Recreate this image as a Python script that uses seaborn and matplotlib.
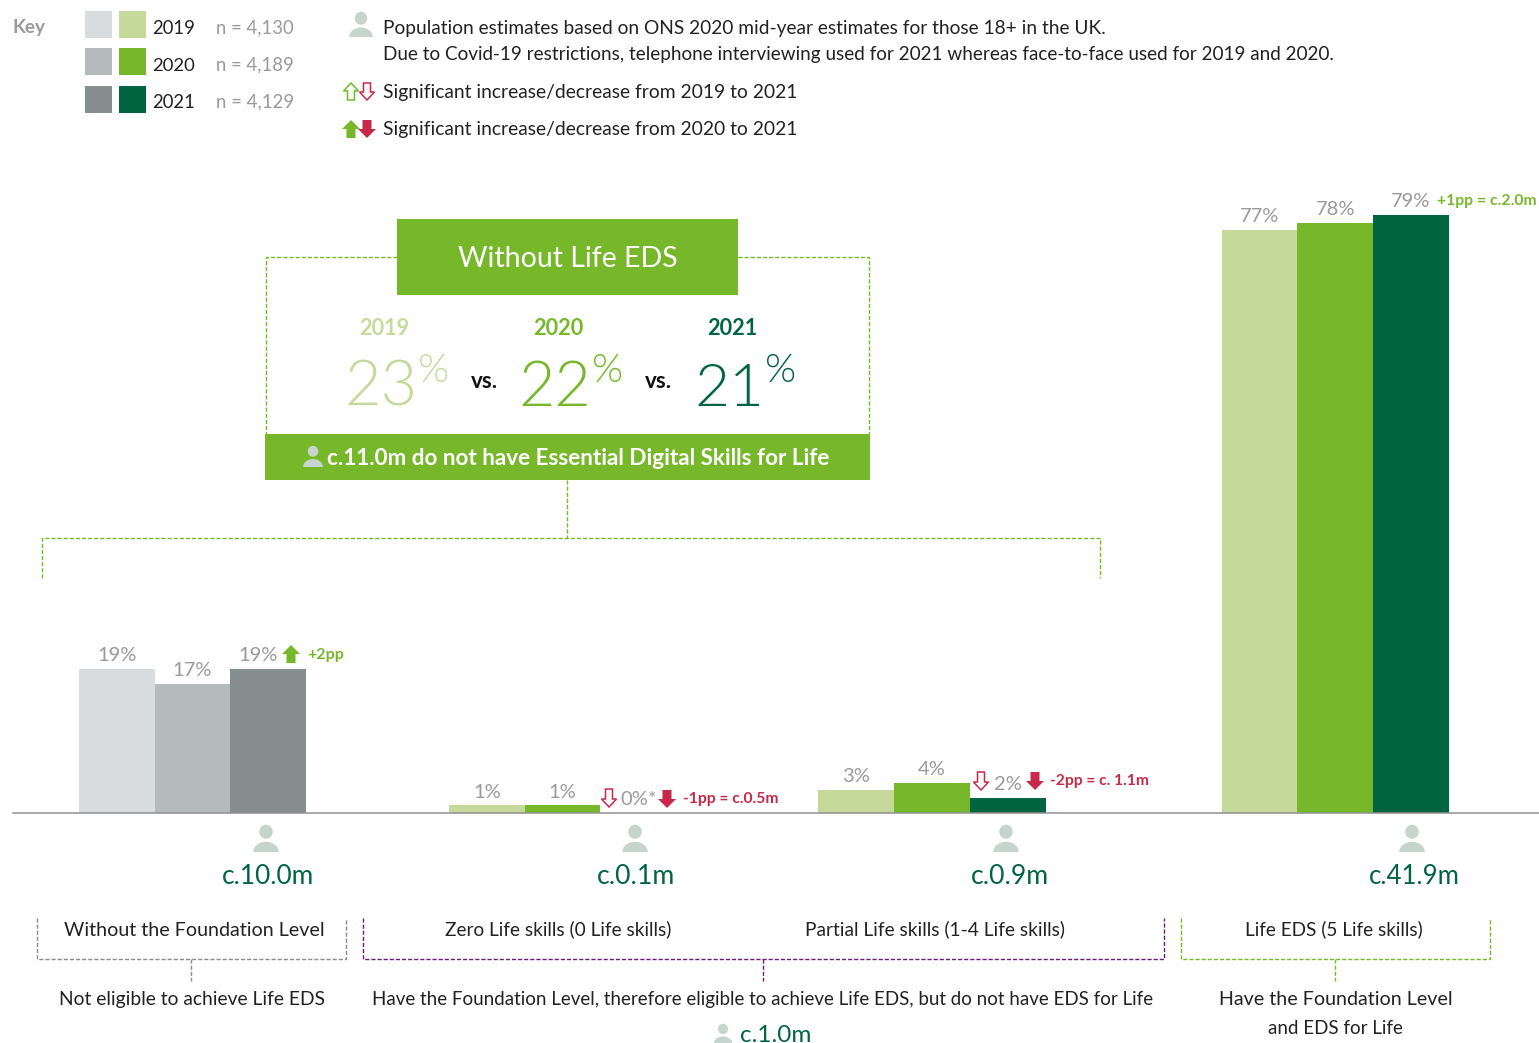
import numpy as np
import pandas as pd
import matplotlib
matplotlib.use("Agg")
import matplotlib.pyplot as plt
from matplotlib.patches import Polygon, Rectangle, Ellipse
import seaborn as sns

# ---------- data ----------
years = ["2019", "2020", "2021"]
sample_sizes = ["n = 4,130", "n = 4,189", "n = 4,129"]
group_names = ["Without the Foundation Level", "Zero Life skills", "Partial Life skills", "Life EDS"]
values_without_foundation = [19, 17, 19]
values_zero = [1, 1, 0]
values_partial = [3, 4, 2]
values_life = [77, 78, 79]
headline_values = ["23", "22", "21"]
population_labels = ["c.10.0m", "c.0.1m", "c.0.9m", "c.41.9m"]

# ---------- style ----------
W, H = 1539, 1043
GREENS = ["#C5DA9A", "#76B82A", "#006540"]
GREYS = ["#D9DCDF", "#B5BABC", "#878E90"]
ICON = "#C5D4CC"
RED = "#C8294A"
TXT = "#222222"
LBL = "#9A9A9A"
PURPLE = "#6A1B7A"
sns.set_theme(style="white")
plt.rcParams["font.family"] = ["Lato", "DejaVu Sans"]

fig = plt.figure(figsize=(W / 100, H / 100), dpi=100, facecolor="white")
BASE = 813
PX_PER_PCT = 7.57
ax = fig.add_axes([0, (H - BASE) / H, 1, BASE / H])
ov = fig.add_axes([0, 0, 1, 1], facecolor="none")
ov.set_xlim(0, W)
ov.set_ylim(H, 0)
ov.axis("off")

# ---------- bars ----------
BAR_W = 75.67
group_centres = [192.5, 562.5, 932, 1335.3]
group_values = [values_without_foundation, values_zero, values_partial, values_life]
group_palettes = [GREYS, GREENS, GREENS, GREENS]
label_shift_pt = {"0-2021": -7.2}
rows = []
palette = {}
for g, (c, vals, pal) in enumerate(zip(group_centres, group_values, group_palettes)):
    for i, v in enumerate(vals):
        key = f"{g}-{years[i]}"
        rows.append({"pos": c + (i - 1) * BAR_W, "value": v, "bar": key})
        palette[key] = pal[i]
df = pd.DataFrame(rows)
sns.barplot(data=df, x="pos", y="value", hue="bar", palette=palette, native_scale=True,
            dodge=False, width=1, saturation=1, linewidth=0, legend=False, ax=ax)
ax.set_xlim(0, W)
ax.set_ylim(0, BASE / PX_PER_PCT)
ax.set_xlabel("")
ax.set_ylabel("")
ax.set_xticks([])
ax.set_yticks([])
sns.despine(ax=ax, left=True, top=True, right=True)
ax.spines["bottom"].set_bounds(13, W)
ax.spines["bottom"].set_color("#8F8F8F")
ax.spines["bottom"].set_linewidth(1.1)
ax.patch.set_alpha(0)
for cont, row in zip(ax.containers, rows):
    lab = f"{row['value']}%" + ("*" if row["value"] == 0 else "")
    anns = ax.bar_label(cont, labels=[lab], padding=3.5, color=LBL, fontsize=14.5)
    for a in anns:
        a.xyann = (label_shift_pt.get(row["bar"], 0), a.xyann[1])

# ---------- helpers ----------
renderer = fig.canvas.get_renderer()


def T(s, x, y, width=None, size=14, color=TXT, ha="left", weight="normal"):
    t = ov.text(x, y, s, fontsize=size, color=color, ha=ha, va="baseline", fontweight=weight)
    if width:
        t.set_fontsize(size * width / t.get_window_extent(renderer).width)
    return t


def person(cx, top, h):
    ov.add_patch(Ellipse((cx, top + .25 * h), .5 * h, .52 * h, color=ICON, lw=0))
    t = np.linspace(0, np.pi, 30)
    pts = np.c_[cx + .47 * h * np.cos(t), top + h - .38 * h * np.sin(t)]
    ov.add_patch(Polygon(pts, closed=True, color=ICON, lw=0))


def arrow(cx, top, bot, color, filled=True, up=False, hw=9, bw=4.5, hl=9):
    if up:
        pts = [(cx, top), (cx + hw, top + hl), (cx + bw, top + hl), (cx + bw, bot),
               (cx - bw, bot), (cx - bw, top + hl), (cx - hw, top + hl)]
    else:
        pts = [(cx, bot), (cx + hw, bot - hl), (cx + bw, bot - hl), (cx + bw, top),
               (cx - bw, top), (cx - bw, bot - hl), (cx - hw, bot - hl)]
    ov.add_patch(Polygon(pts, closed=True, facecolor=color if filled else "white",
                         edgecolor=color, lw=1.1 if not filled else 0, joinstyle="miter"))


def dash(xs, ys, color):
    ov.plot(xs, ys, color=color, lw=1.0, dashes=(3, 1.4), dash_capstyle="butt")


# ---------- key ----------
T("Key", 13, 33, width=33, color=LBL, weight="bold")
for i, (yr, n, top, base) in enumerate(zip(years, sample_sizes, [11, 48, 86], [34, 71, 108])):
    ov.add_patch(Rectangle((85, top), 27, 27, color=GREYS[i], lw=0))
    ov.add_patch(Rectangle((119, top), 27, 27, color=GREENS[i], lw=0))
    T(yr, 152, base, width=43, color=TXT)
    T(n, 216.5, base - 1, width=78, color=LBL)
person(361, 12, 25)
T("Population estimates based on ONS 2020 mid-year estimates for those 18+ in the UK.", 383, 34, width=724)
T("Due to Covid-19 restrictions, telephone interviewing used for 2021 whereas face-to-face used for 2019 and 2020.",
  383, 60, width=956)
arrow(351, 83, 100, GREENS[1], filled=False, up=True, hw=7.5, bw=3.5, hl=8)
arrow(367, 83, 100, RED, filled=False, hw=7.5, bw=3.5, hl=8)
T("Significant increase/decrease from 2019 to 2021", 383, 98, width=417)
arrow(351, 120, 138, GREENS[1], up=True)
arrow(367, 120, 138, RED)
T("Significant increase/decrease from 2020 to 2021", 383, 135, width=417)

# ---------- headline panel ----------
dash([397, 265.5, 265.5], [257, 257, 434], GREENS[1])
dash([738, 869, 869], [257, 257, 434], GREENS[1])
ov.add_patch(Rectangle((397, 219), 341, 76, color=GREENS[1], lw=0))
ov.add_patch(Rectangle((265, 434), 605, 46, color=GREENS[1], lw=0))
T("Without Life EDS", 567.5, 267, width=219, color="white", ha="center", size=22)
for i, (yr, val, xc, xn, xp, wn) in enumerate(zip(years, headline_values, [384, 558, 732],
                                                  [344, 518, 694], [418, 592, 765], [73, 73, 70])):
    T(yr, xc, 335, width=50, color=GREENS[i], ha="center", weight="bold", size=16)
    T(val, xn, 406, width=wn, color=GREENS[i], size=50, weight=300)
    T("%", xp, 382, width=31, color=GREENS[i], size=26, weight=300)
T("vs.", 484, 388, width=27, color="#111111", ha="center", weight="bold", size=14)
T("vs.", 658, 388, width=27, color="#111111", ha="center", weight="bold", size=14)
person(313, 446, 21)
T("c.11.0m do not have Essential Digital Skills for Life", 327, 465, width=506, color="white", weight="bold", size=16)
dash([567, 567], [480, 537.5], GREENS[1])
dash([41.5, 41.5, 1099.5, 1099.5], [578, 537.5, 537.5, 578], GREENS[1])

# ---------- bar annotations ----------
arrow(291, 645, 663, GREENS[1], up=True)
T("+2pp", 307, 659, width=37, color=GREENS[1], weight="bold")
arrow(609, 789, 807, RED, filled=False, hw=7.5, bw=3.5, hl=8)
arrow(667, 790, 808, RED)
T("-1pp = c.0.5m", 683, 803, width=96, color=RED, weight="bold")
arrow(981, 772, 790, RED, filled=False, hw=7.5, bw=3.5, hl=8)
arrow(1035, 772, 790, RED)
T("-2pp = c. 1.1m", 1050, 785, width=99, color=RED, weight="bold")
T("+1pp = c.2.0m", 1437, 205, width=100, color=GREENS[1], weight="bold")

# ---------- population labels ----------
for lab, ic, cx, wd in zip(population_labels, [266, 635, 1006, 1412], [268, 636.5, 1010, 1414.5], [92, 78, 78, 91]):
    person(ic, 825, 27)
    T(lab, cx, 884, width=wd, color=GREENS[2], ha="center", size=20)

# ---------- lower brackets ----------
T("Without the Foundation Level", 194, 936, width=260, ha="center")
T("Zero Life skills (0 Life skills)", 558.5, 935, width=227, ha="center")
T("Partial Life skills (1-4 Life skills)", 935, 935, width=261, ha="center")
T("Life EDS (5 Life skills)", 1334, 935, width=178, ha="center")
dash([37, 37, 346, 346], [918, 958.5, 958.5, 918], "#8C8C8C")
dash([191, 191], [958.5, 981], "#8C8C8C")
dash([363, 363, 1163.5, 1163.5], [918, 958.5, 958.5, 918], PURPLE)
dash([763, 763], [958.5, 981], PURPLE)
dash([1180.5, 1180.5, 1489.5, 1489.5], [918, 958.5, 958.5, 918], GREENS[1])
dash([1335, 1335], [958.5, 981], GREENS[1])
T("Not eligible to achieve Life EDS", 192, 1005, width=268, ha="center")
T("Have the Foundation Level, therefore eligible to achieve Life EDS, but do not have EDS for Life",
  763, 1005, width=784, ha="center")
T("Have the Foundation Level", 1335.5, 1005, width=233, ha="center")
T("and EDS for Life", 1335.5, 1034, width=135, ha="center")
person(723, 1024, 20)
T("c.1.0m", 775.5, 1042, width=71, color=GREENS[2], ha="center", size=20)

fig.savefig("out.png", dpi=100, facecolor="white")
